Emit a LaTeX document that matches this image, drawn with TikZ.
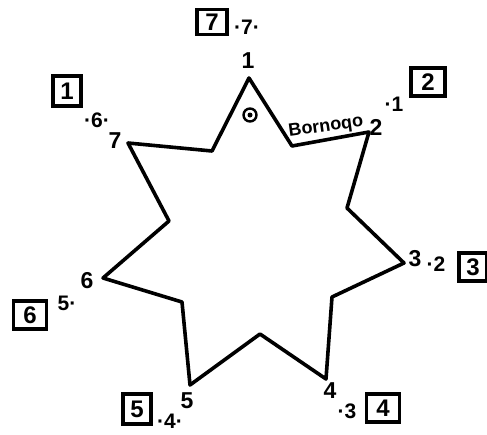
\documentclass[tikz,border=0pt]{standalone}
\usepackage{fontspec}
\setsansfont{Liberation Sans}
\begin{document}
\begin{tikzpicture}[x=1pt,y=-1pt,
  edge/.style={line width=3.6pt, line join=round, line cap=round},
  vlbl/.style={font=\sffamily\bfseries\fontsize{23}{23}\selectfont, inner sep=0pt},
  slbl/.style={font=\sffamily\bfseries\fontsize{21}{21}\selectfont, inner sep=0pt},
  boxlbl/.style={draw, line width=3.2pt, inner sep=0pt, font=\sffamily\bfseries\fontsize{24}{24}\selectfont},
  ring/.style={circle, draw, line width=2.4pt, minimum size=13pt, inner sep=0pt}]
\useasboundingbox (0,0) rectangle (487,434);
% star vertices
\coordinate (T1) at (249,78);
\coordinate (I1) at (292,146);
\coordinate (T2) at (369,132);
\coordinate (I2) at (347,208);
\coordinate (T3) at (404,263);
\coordinate (I3) at (332,297);
\coordinate (T4) at (326,379);
\coordinate (I4) at (260,334);
\coordinate (T5) at (190,385);
\coordinate (I5) at (182,302);
\coordinate (T6) at (103,278);
\coordinate (I6) at (169,221);
\coordinate (T7) at (128,143);
\coordinate (I7) at (212,151);
\draw[edge] (T1) -- (I1) -- (T2) -- (I2) -- (T3) -- (I3) -- (T4) -- (I4)
  -- (T5) -- (I5) -- (T6) -- (I6) -- (T7) -- (I7) -- cycle;
% ring mark
\node[ring] (rg) at (250,115) {};
\fill (rg.center) circle (2.5pt);
% boxes
\node[boxlbl, minimum width=30pt, minimum height=25pt] (b7) at (212,22) {7};
\node[boxlbl, minimum width=34pt, minimum height=28pt] (b2) at (428,82) {2};
\node[boxlbl, minimum width=28pt, minimum height=30pt] (b1) at (67,91) {1};
\node[boxlbl, minimum width=28pt, minimum height=28pt] (b3) at (473,267) {3};
\node[boxlbl, minimum width=33pt, minimum height=28pt] (b6) at (30,315) {6};
\node[boxlbl, minimum width=28pt, minimum height=30pt] (b5) at (137,409) {5};
\node[boxlbl, minimum width=33pt, minimum height=28pt] (b4) at (383,408) {4};
% vertex numbers
\node[vlbl] (n1) at (248,61) {1};
\node[vlbl] (n2) at (376,127) {2};
\node[vlbl] (n3) at (415,259) {3};
\node[vlbl] (n4) at (330,391) {4};
\node[vlbl] (n5) at (187,401) {5};
\node[vlbl] (n6) at (87,281) {6};
\node[vlbl] (n7) at (115,141) {7};
% secondary numbers
\node[slbl] (s7) at (247,27) {·7·};
\node[slbl] (s1) at (394,104) {·1};
\node[slbl] (s2) at (436,264) {·2};
\node[slbl] (s3) at (347,411) {·3};
\node[slbl] (s4) at (170,421) {·4·};
\node[slbl] (s5) at (67,303) {5·};
\node[slbl] (s6) at (97,120) {·6·};
% handwritten word
\node[font=\sffamily\bfseries\fontsize{18}{18}\selectfont, inner sep=0pt, rotate=8] (w) at (326,127) {Bornoqo};
\end{tikzpicture}
\end{document}
